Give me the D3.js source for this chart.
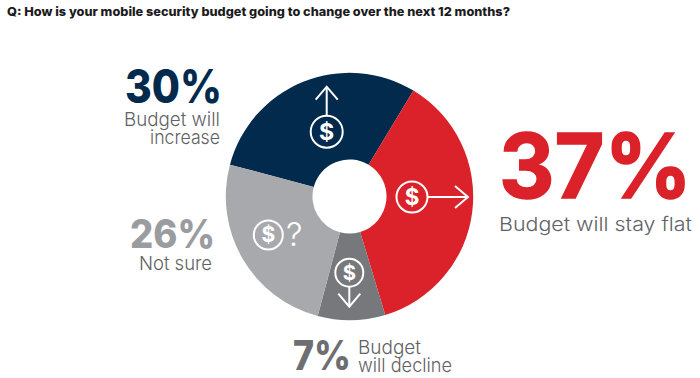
<!DOCTYPE html>
<html>
<head>
<meta charset="utf-8">
<script src="https://cdn.jsdelivr.net/npm/d3@7"></script>
<style>
html, body { margin: 0; padding: 0; background: #fff; }
svg { display: block; }
text { font-family: Inter, "Noto Sans", sans-serif; }
</style>
</head>
<body>
<script>
//chart values
var title = "Q: How is your mobile security budget going to change over the next 12 months?";
var categories = ["Budget will increase", "Budget will stay flat", "Budget will decline", "Not sure"];
var percentLabels = ["30%", "37%", "7%", "26%"];
//slice sizes as drawn in the picture, the 7% slice is drawn a bit wider than its label
var sliceShares = [29.5, 36.7, 8.8, 25];
var sliceColors = ["#022a4d", "#db2129", "#77787b", "#a7a9ac"];

var width = 700, height = 378;
var cx = 349.5, cy = 196.5;

const svg = d3.select("body")
    .append("svg")
    .attr("width", width)
    .attr("height", height);

//question at the top
svg.append("text")
    .attr("x", 7)
    .attr("y", 16)
    .attr("font-size", 12)
    .attr("font-weight", 800)
    .attr("fill", "#1b1b1d")
    .attr("textLength", 503)
    .attr("lengthAdjust", "spacingAndGlyphs")
    .text(title);

//donut
var startAngle = -75.1 * Math.PI / 180;
var pie = d3.pie()
    .sort(null)
    .startAngle(startAngle)
    .endAngle(startAngle + 2 * Math.PI);
var arc = d3.arc().innerRadius(37).outerRadius(123.7);

var donut = svg.append("g")
    .attr("transform", `translate(${cx},${cy})`);

donut.selectAll("path")
    .data(pie(sliceShares))
    .join("path")
    .attr("fill", (d, i) => sliceColors[i])
    .attr("d", arc);

//dollar icon with a line going out to dist, dir is the rotation of the arrow
function dollarIcon(x, y, r, dir, dist) {
    var g = svg.append("g")
        .attr("transform", `translate(${x},${y})`)
        .attr("fill", "none")
        .attr("stroke", "#fff");
    g.append("circle")
        .attr("r", r)
        .attr("stroke-width", 2);
    g.append("text")
        .attr("y", r * 0.5)
        .attr("text-anchor", "middle")
        .attr("font-size", r * 1.45)
        .attr("font-weight", 700)
        .attr("fill", "#fff")
        .attr("stroke", "none")
        .text("$");
    if (dir !== null) {
        var a = g.append("g")
            .attr("transform", `rotate(${dir})`)
            .attr("stroke-width", 2);
        a.append("line")
            .attr("x1", r).attr("x2", dist);
        a.append("path")
            .attr("d", `M${dist - 13},-11L${dist},0L${dist - 13},11`);
    }
}

dollarIcon(326.7, 131.7, 16, -90, 45);
dollarIcon(412, 197, 15.5, 0, 56);
dollarIcon(349.3, 272.7, 14, 90, 34);
dollarIcon(268.3, 235, 14.5, null, 0);

svg.append("text")
    .attr("x", 286)
    .attr("y", 246)
    .attr("font-size", 33)
    .attr("font-weight", 300)
    .attr("fill", "#fff")
    .text("?");

//text helper, every label is fitted to the width it has in the picture
function label(str, x, y, size, weight, color, len) {
    return svg.append("text")
        .attr("x", x)
        .attr("y", y)
        .attr("font-size", size)
        .attr("font-weight", weight)
        .attr("fill", color)
        .attr("textLength", len)
        .attr("lengthAdjust", "spacingAndGlyphs")
        .text(str);
}

var labelGrey = "#616265";

//30%
label(percentLabels[0], 125, 103, 46, 800, sliceColors[0], 97);
label("Budget will", 124, 126, 19, 300, labelGrey, 96);
label("increase", 150, 144, 19, 300, labelGrey, 70);

//37%, the stroke makes it as heavy as the other numbers
label(percentLabels[1], 499, 197.5, 89, 700, sliceColors[1], 193)
    .attr("stroke", sliceColors[1])
    .attr("stroke-width", 1.5);
label(categories[1], 499, 231, 19, 300, labelGrey, 193);

//26%
label(percentLabels[3], 130, 248, 39, 800, "#9b9c9f", 85);
label(categories[3], 139, 270, 19, 300, labelGrey, 73);

//7%
label(percentLabels[2], 293, 370, 41, 800, "#6d6e71", 58);
label("Budget", 358, 354, 19, 300, labelGrey, 63);
label("will decline", 358, 372, 19, 300, labelGrey, 94);
</script>
</body>
</html>
